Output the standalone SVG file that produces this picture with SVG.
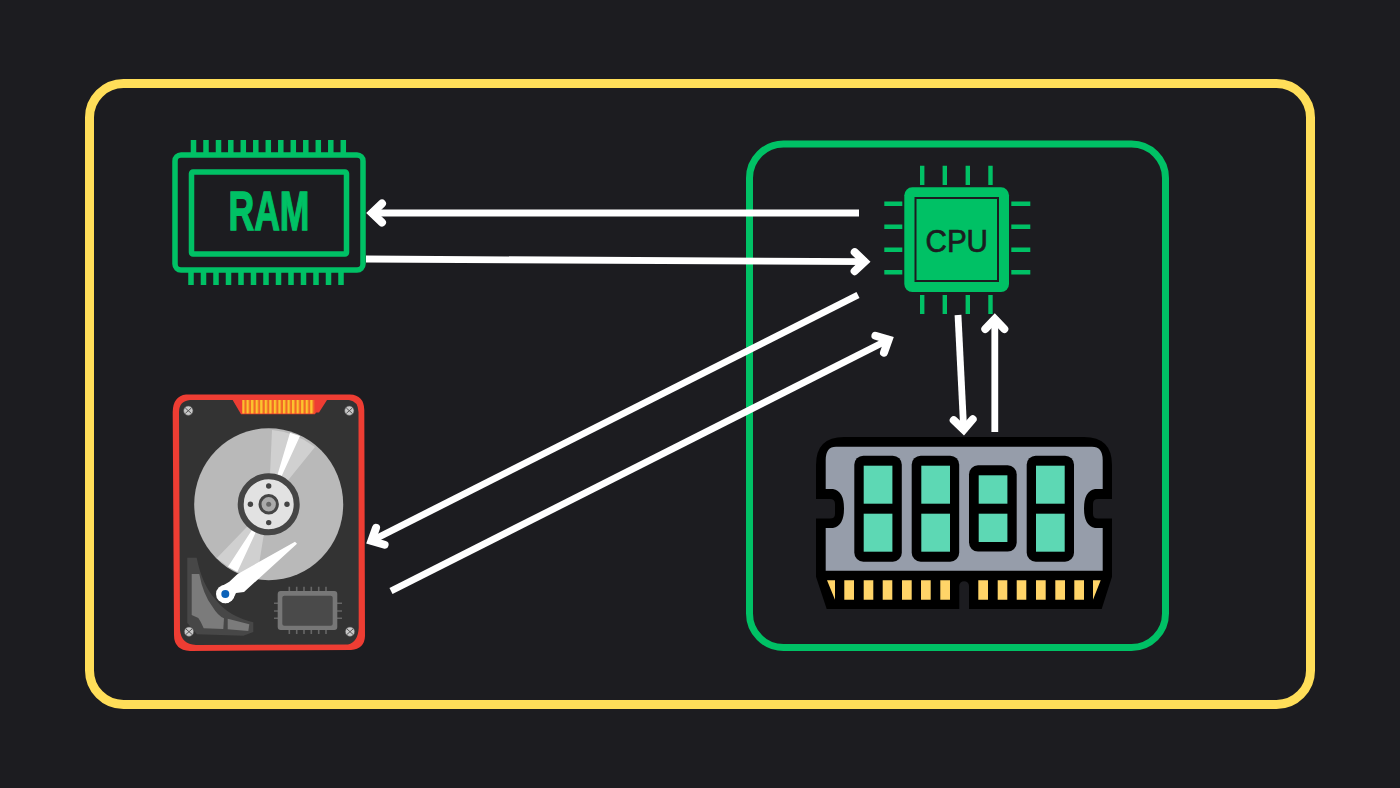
<svg xmlns="http://www.w3.org/2000/svg" width="1400" height="788" viewBox="0 0 1400 788">
<style>
.gs{fill:none;stroke:#00c165;stroke-width:5.500}
.pin{stroke:#00c165;stroke-width:5.500;fill:none}
.cpin{stroke:#00c165;stroke-width:4.400;fill:none}
.t{fill:#5dd8b4}
.c{fill:#000}
.p{fill:#ffd468}
.conn{fill:none;stroke:#fff;stroke-width:6.800;marker-end:url(#ah)}
.scr{fill:#c8c8c8;stroke:#555;stroke-width:.6}
.x{stroke:#555;stroke-width:1}
.cp{stroke:#666;stroke-width:1.600}
</style>
<defs>
<marker id="ah" markerUnits="userSpaceOnUse" viewBox="-24 -16 28 32" markerWidth="28" markerHeight="32" refX="-4" refY="0" orient="auto" overflow="visible">
<path d="M-16-9.500L-6 0L-16 9.500" fill="none" stroke="#fff" stroke-width="8" stroke-linecap="round" stroke-linejoin="miter"/>
</marker>
<pattern id="st" patternUnits="userSpaceOnUse" x="242" y="399" width="4.550" height="20">
<rect width="4.550" height="20" fill="#f26a26"/><rect width="2.300" height="20" fill="#fcc42e"/>
</pattern>
</defs>
<rect width="1400" height="788" fill="#1c1c20"/>
<rect id="system-boundary" x="89.500" y="83.500" width="1221" height="621" rx="34" fill="none" stroke="#ffde59" stroke-width="9"/>
<rect id="cpu-boundary" x="749.500" y="144" width="416" height="503.500" rx="34" fill="none" stroke="#00c165" stroke-width="7"/>

<g id="ram">
<rect class="gs" x="175" y="155" width="188" height="115" rx="6"/>
<rect class="gs" x="191.500" y="172" width="155" height="82" rx="1.500"/>
<path class="pin" d="M193.500 140V153M206 140V153M218.500 140V153M230.800 140V153M243.300 140V153M255.800 140V153M268.300 140V153M280.800 140V153M293.300 140V153M305.800 140V153M318.300 140V153M330.800 140V153M343.300 140V153"/>
<path class="pin" d="M191 272V285M203.500 272V285M216 272V285M228.500 272V285M241 272V285M253.500 272V285M266 272V285M278.500 272V285M291 272V285M303.500 272V285M316 272V285M328.500 272V285M341 272V285"/>
<text x="228.500" y="230" font-family="'Liberation Sans',Arial,sans-serif" font-weight="700" font-size="55.500" fill="#00c165" stroke="#00c165" stroke-width="1.400" textLength="81" lengthAdjust="spacingAndGlyphs">RAM</text>
</g>

<g id="cpu">
<rect x="904.300" y="187.300" width="104.700" height="104.700" rx="8" fill="#00c165"/>
<rect x="915.500" y="198" width="82.500" height="83" fill="none" stroke="#1c1c20" stroke-width="2"/>
<path class="cpin" d="M922.200 165.700V185M944.800 165.700V185M967.800 165.700V185M990.500 165.700V185M922.200 295V314M944.800 295V314M967.800 295V314M990.500 295V314M884.300 203.700H902.300M884.300 226.700H902.300M884.300 249.700H902.300M884.300 272.300H902.300M1011.300 203.700H1030.300M1011.300 226.700H1030.300M1011.300 249.700H1030.300M1011.300 272.300H1030.300"/>
<text x="925.500" y="252" font-family="'Liberation Sans',Arial,sans-serif" font-size="32" fill="#1c1c20" stroke="#1c1c20" stroke-width=".7" textLength="62.500" lengthAdjust="spacingAndGlyphs">CPU</text>
</g>

<g id="memory-stick">
<path class="c" d="M844 437H1084Q1112 437 1112 465V576.700L1101.700 609H969V586A4.800 4.800 0 0 0 959.300 586V609H826.700L816 576.700V465Q816 437 844 437Z"/>
<path d="M836 446.700H1092Q1102.700 446.700 1102.700 460V489H1095Q1084 491 1084 508.500Q1084 526 1095 528H1102.700V570.700H825.700V528H833Q844 526 844 508.500Q844 491 833 489H825.700V460Q825.700 446.700 836 446.700Z" fill="#969daa"/>
<path d="M816 499H830Q835 499 835 504V514Q835 518.500 830 518.500H816ZM1112 499H1098Q1093 499 1093 504V514Q1093 518.500 1098 518.500H1112Z" fill="#1c1c20"/>
<rect class="c" x="854.300" y="455.700" width="47.500" height="106" rx="9"/>
<rect class="c" x="911.700" y="455.700" width="47.500" height="106" rx="9"/>
<rect class="c" x="969" y="465.300" width="47.700" height="86.300" rx="9"/>
<rect class="c" x="1026.700" y="455.700" width="47.300" height="106" rx="9"/>
<rect class="t" x="863.700" y="465.700" width="28.700" height="38"/>
<rect class="t" x="863.700" y="513.700" width="28.700" height="38"/>
<rect class="t" x="921.300" y="465.700" width="28.700" height="38"/>
<rect class="t" x="921.300" y="513.700" width="28.700" height="38"/>
<rect class="t" x="978.700" y="475.300" width="28.700" height="28.400"/>
<rect class="t" x="978.700" y="513.700" width="28.700" height="28.300"/>
<rect class="t" x="1036" y="465.700" width="28.700" height="38"/>
<rect class="t" x="1036" y="513.700" width="28.700" height="38"/>
<path class="p" d="M827 580.300H835V599.700ZM844.300 580.300h9.700v19.400h-9.700ZM863.700 580.300h9.600v19.400h-9.600ZM882.700 580.300h9.600v19.400h-9.600ZM902 580.300h9.700v19.400H902ZM921 580.300h9.700v19.400H921ZM940.300 580.300h9.700v19.400h-9.700ZM978.300 580.300h9.700v19.400h-9.700ZM997.700 580.300h9.600v19.400h-9.600ZM1016.700 580.300h9.600v19.400h-9.600ZM1036 580.300h9.700v19.400H1036ZM1055.300 580.300h9.700v19.400h-9.700ZM1074.300 580.300h9.700v19.400h-9.700ZM1093 580.300H1100.700L1093 599.700Z"/>
</g>

<g id="hard-disk">
<path d="M186 394.500H350Q364 395 364.300 410L365 636Q364.500 649 351 650L190 651Q174 650 174 635L172.700 412Q173 396 186 394.500Z" fill="#ee3d33"/>
<path d="M190 400H233L241 412.500H319L327 400H349Q358 401 358.500 412L358.700 628Q358 642 348 644.500L196 645Q181 644 180 630L179 412Q179 401 190 400Z" fill="#333"/>
<path d="M232.700 400H323.300L315 414.300H241Z" fill="#ee3d33"/>
<rect x="242.300" y="400" width="72" height="13.500" fill="url(#st)"/>
<g id="platter">
<ellipse cx="268.700" cy="504.300" rx="74.500" ry="76" fill="#b9b9b9"/>
<path d="M268.700 504.300L272 430Q295 432 315 447ZM268.700 504.300L216.700 558.300Q238 575 256.700 578.500Z" fill="#d0d0d0"/>
<path d="M268.700 504.300L290 432.700L300 436ZM268.700 504.300L228 566.700L237.300 572Z" fill="#fff"/>
<circle cx="268.700" cy="504.300" r="28" fill="#e2e2e2" stroke="#454545" stroke-width="6"/>
<g fill="#444"><circle cx="268.700" cy="486" r="2.700"/><circle cx="268.700" cy="522.600" r="2.700"/><circle cx="250.400" cy="504.300" r="2.700"/><circle cx="287" cy="504.300" r="2.700"/></g>
<circle cx="268.700" cy="504.300" r="8.700" fill="#aaa" stroke="#454545" stroke-width="3"/>
<circle cx="268.700" cy="504.300" r="2.500" fill="#666"/>
</g>
<path d="M187.300 557.700H196.700Q202 585 216 600Q228 616 253.300 622.300V632L243.300 635.700L197 634.300L187.300 623Z" fill="#474747"/>
<path d="M191.700 574H199.300Q203 594 212 606Q218 616 224 618.300L223.300 629L203.700 628.300Q200 620 198.300 618L191.700 615Z" fill="#7b7b7b"/>
<path d="M227.700 618.700L249.300 624.300L248.300 631L227.700 629.300Z" fill="#7b7b7b"/>
<path d="M295 541.700L297 543.700L244 592L236 593Q232 603 225 603.300L222 586L229.300 581.700L237.300 574.300Z" fill="#fff"/>
<circle cx="225.300" cy="594" r="9.300" fill="#fff"/>
<circle cx="225.300" cy="594" r="4" fill="#0b62b9"/>
<g id="board">
<path class="cp" d="M289.300 586.700V591M296.700 586.700V591M304 586.700V591M311.300 586.700V591M318.700 586.700V591M326 586.700V591M289.300 630V634M296.700 630V634M304 630V634M311.300 630V634M318.700 630V634M326 630V634M274 603.300H278M274 611H278M274 618.300H278M337 603.300H342M337 611H342M337 618.300H342"/>
<rect x="277.700" y="591" width="59.600" height="39" rx="3" fill="#777"/>
<rect x="282.300" y="595.700" width="50.400" height="30" rx="2" fill="#4a4a4a"/>
</g>
<g id="screws">
<circle class="scr" cx="188.300" cy="410.700" r="4.700"/><path class="x" d="M185.300 408L191.300 413.400M191.300 408L185.300 413.400"/>
<circle class="scr" cx="349.300" cy="410.700" r="4.700"/><path class="x" d="M346.300 408L352.300 413.400M352.300 408L346.300 413.400"/>
<circle class="scr" cx="189" cy="631.700" r="4.700"/><path class="x" d="M186 629L192 634.400M192 629L186 634.400"/>
<circle class="scr" cx="350" cy="631.700" r="4.700"/><path class="x" d="M347 629L353 634.400M353 629L347 634.400"/>
</g>
</g>

<g id="connectors">
<path class="conn" d="M859 213H370"/>
<path class="conn" d="M366 259L866.700 261.700"/>
<path class="conn" d="M858 295L369.600 541.700"/>
<path class="conn" d="M391 591L890.400 338.800"/>
<path class="conn" d="M958 315L963.800 431.700"/>
<path class="conn" d="M994.800 432V317"/>
</g>
</svg>
